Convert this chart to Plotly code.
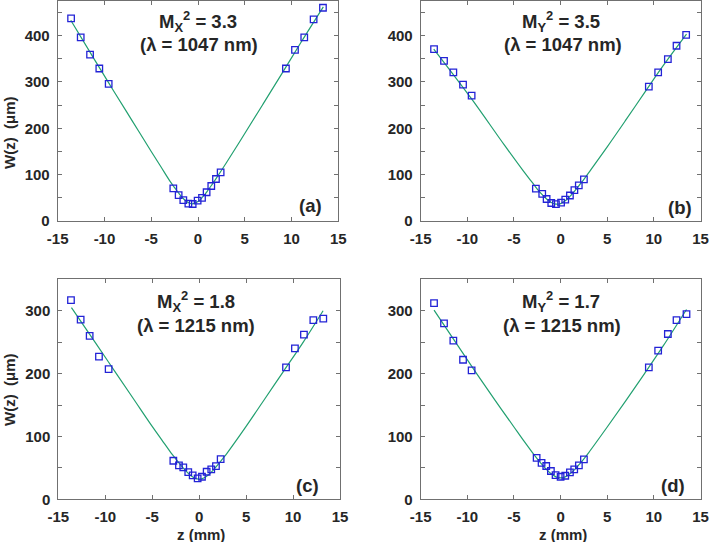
import plotly.graph_objects as go

# ---------------- data ----------------
# Panel (a)  Mx^2 = 3.3, 1047 nm
za = [-13.57, -12.54, -11.54, -10.55, -9.55,
      -2.64, -2.07, -1.57, -1.03, -0.57, -0.04, 0.43, 0.92, 1.42, 1.92, 2.42,
      9.40, 10.37, 11.36, 12.36, 13.36]
wa = [437, 396, 359, 329, 296,
      70.5, 56, 45, 37.4, 36.7, 44, 50, 62, 75.5, 90.6, 105,
      329, 369, 396, 435, 460]
fza = [-13.6, -11, -9, -7, -5, -4, -3, -2.5, -2, -1.5, -1, -0.6, 0, 0.5, 1, 1.5, 2, 3, 5, 7, 9, 11, 13.4]
fwa = [433, 346, 280, 215, 150, 118, 86, 72, 58.5, 47, 39.3, 37, 42, 51.9, 64.5, 78.6, 93.5, 124.5, 188.7, 253.7, 319, 385, 462]

# Panel (b)  My^2 = 3.5, 1047 nm
zb = [-13.57, -12.50, -11.50, -10.46, -9.54,
      -2.65, -1.97, -1.50, -1.00, -0.50, 0.05, 0.50, 1.00, 1.48, 1.95, 2.50,
      9.46, 10.46, 11.50, 12.43, 13.46]
wb = [370.7, 345.6, 320.6, 294, 270.5,
      70, 58.5, 47.5, 38.8, 36.5, 39.5, 46, 55, 66.5, 77, 90,
      290, 320.6, 349, 378, 401.4]
fzb = [-13.6, -9.6, -6, -4, -3, -2.5, -2, -1.5, -1, -0.5, 0, 0.5, 1, 1.5, 2, 2.5, 3, 5, 7, 9, 11, 13.5]
fwb = [371, 265, 163, 108, 82, 69, 57.5, 47.5, 40, 36.5, 37.5, 43.5, 53, 64.5, 77, 90, 104, 160, 218, 277, 335, 403]

# Panel (c)  Mx^2 = 1.8, 1215 nm
zc = [-13.65, -12.62, -11.66, -10.67, -9.64,
      -2.75, -2.15, -1.69, -1.16, -0.69, -0.16, 0.30, 0.80, 1.29, 1.79, 2.29,
      9.25, 10.20, 11.16, 12.16, 13.22]
wc = [317, 286, 260, 227, 207,
      61.3, 53.9, 50.7, 43.3, 38, 33.3, 35.9, 43.8, 47.5, 52.8, 63.9,
      210, 240, 262, 285, 287.5]
fzc = [-13.6, -11, -9, -7, -5, -4, -3, -2.5, -2, -1.5, -1, -0.5, 0, 0.5, 1, 1.5, 2, 2.5, 3, 5, 7, 9, 11, 13.2]
fwc = [305, 248, 204, 160, 116, 95, 74, 64.5, 55, 46.4, 39, 33.9, 32, 33.9, 39, 46.4, 55, 64.5, 74, 116, 160, 204, 248, 300]

# Panel (d)  My^2 = 1.7, 1215 nm
zd = [-13.57, -12.50, -11.50, -10.46, -9.54,
      -2.57, -2.04, -1.54, -1.04, -0.54, 0.00, 0.50, 1.00, 1.46, 1.96, 2.50,
      9.46, 10.46, 11.50, 12.43, 13.50]
wd = [312, 280, 252.5, 222, 205,
      66, 58, 53, 45, 38.6, 35.9, 37.5, 42.8, 47.5, 53.9, 63.4,
      210, 236.5, 263, 285, 294.7]
fzd = [-13.57, -11, -9, -7, -5, -4, -3, -2.5, -2, -1.5, -1, -0.5, 0, 0.5, 1, 1.5, 2, 2.5, 3, 5, 7, 9, 11, 13.5]
fwd = [301, 244, 200, 157, 115, 94, 74, 64.5, 55.5, 47.3, 40.5, 35.7, 34, 35.7, 40.5, 47.3, 55.5, 64.5, 74, 115, 157, 200, 244, 302]

x_ticks = [-15, -10, -5, 0, 5, 10, 15]
x_text = ["-15", "-10", "-5", "0", "5", "10", "15"]
y_ticks_top = [0, 100, 200, 300, 400]
y_ticks_bot = [0, 100, 200, 300]
y_minor_top = [50, 150, 250, 350, 450]
y_minor_bot = [50, 150, 250]

labels = [
    ("M<sub>X</sub><sup>2</sup> = 3.3", "(λ = 1047 nm)", "(a)"),
    ("M<sub>Y</sub><sup>2</sup> = 3.5", "(λ = 1047 nm)", "(b)"),
    ("M<sub>X</sub><sup>2</sup> = 1.8", "(λ = 1215 nm)", "(c)"),
    ("M<sub>Y</sub><sup>2</sup> = 1.7", "(λ = 1215 nm)", "(d)"),
]

# ---------------- figure ----------------
W, H = 714, 542
FONT = "Liberation Sans, Arial, sans-serif"
TXT = "#262626"
AX = "#707070"
LINE = "#22a070"
MARK = "#2323d6"

fig = go.Figure()
panels = [(za, wa, fza, fwa), (zb, wb, fzb, fwb), (zc, wc, fzc, fwc), (zd, wd, fzd, fwd)]
for i, (z, w, fz, fw) in enumerate(panels):
    sx = "x" if i == 0 else f"x{i+1}"
    sy = "y" if i == 0 else f"y{i+1}"
    fig.add_trace(go.Scatter(x=fz, y=fw, mode="lines", xaxis=sx, yaxis=sy,
                             line=dict(color=LINE, width=1.2), showlegend=False,
                             line_shape="spline"))
    fig.add_trace(go.Scatter(x=z, y=w, mode="markers", xaxis=sx, yaxis=sy,
                             marker=dict(symbol="square-open", size=6.5,
                                         color=MARK, line=dict(color=MARK, width=1.3)),
                             showlegend=False, cliponaxis=False))

xdom = [[57.7 / W, 338.3 / W], [420.7 / W, 700.5 / W],
        [58.3 / W, 340.0 / W], [420.7 / W, 700.5 / W]]
ydom_top = [1 - 221 / H, 1 - 0.8 / H]
ydom_bot = [1 - 499.3 / H, 1 - 279.3 / H]

def common():
    return dict(ticks="inside", ticklen=4, tickcolor=AX, tickwidth=1, showline=True,
                linecolor=AX, linewidth=1, mirror="ticks", showgrid=False,
                zeroline=False, automargin=False,
                tickfont=dict(family=FONT, size=15, color=TXT, weight="bold"))

def xa(dom, anchor):
    d = common()
    d.update(domain=dom, anchor=anchor, range=[-15, 15], tickmode="array",
             tickvals=x_ticks, ticktext=x_text, ticklabelstandoff=4)
    return d

def ya(dom, anchor, rng, tv, mv):
    d = common()
    d.update(domain=dom, anchor=anchor, range=rng, tickmode="array", tickvals=tv,
             minor=dict(tickmode="array", tickvals=mv, ticks="inside", ticklen=4,
                        tickcolor=AX, tickwidth=1, showgrid=False),
             ticklabelstandoff=4)
    return d

fig.update_layout(
    width=W, height=H, margin=dict(l=0, r=0, t=0, b=0),
    paper_bgcolor="white", plot_bgcolor="white",
    xaxis=xa(xdom[0], "y"), xaxis2=xa(xdom[1], "y2"),
    xaxis3=xa(xdom[2], "y3"), xaxis4=xa(xdom[3], "y4"),
    yaxis=ya(ydom_top, "x", [0, 475], y_ticks_top, y_minor_top),
    yaxis2=ya(ydom_top, "x2", [0, 475], y_ticks_top, y_minor_top),
    yaxis3=ya(ydom_bot, "x3", [0, 350], y_ticks_bot, y_minor_bot),
    yaxis4=ya(ydom_bot, "x4", [0, 350], y_ticks_bot, y_minor_bot),
)

ann_font = dict(family=FONT, size=18.5, color=TXT, weight="bold")
t1 = [(198, 21), (561, 21), (196, 301), (561, 301)]
t2 = [(199, 45), (563, 45), (196, 325), (562, 325)]
pl = [(310, 205), (680, 207), (307, 485), (673, 485)]
for i, (a, b, c) in enumerate(labels):
    for (px, py), txt in [(t1[i], a), (t2[i], b), (pl[i], c)]:
        fig.add_annotation(x=px / W, y=1 - py / H, xref="paper", yref="paper",
                           text=txt, showarrow=False, font=ann_font,
                           xanchor="center", yanchor="middle")

lab_font = dict(family=FONT, size=15, color=TXT, weight="bold")
for py in [133, 390]:
    fig.add_annotation(x=9 / W, y=1 - py / H, xref="paper", yref="paper",
                       text="W(z)  (μm)", textangle=-90, showarrow=False,
                       font=lab_font, xanchor="center", yanchor="middle")
for px in [201, 563]:
    fig.add_annotation(x=px / W, y=1 - 534 / H, xref="paper", yref="paper",
                       text="z (mm)", showarrow=False, font=lab_font,
                       xanchor="center", yanchor="middle")

fig.write_html("out.html", config={"displayModeBar": False},
               post_script="document.body.style.margin='0';document.body.style.overflow='hidden';")
